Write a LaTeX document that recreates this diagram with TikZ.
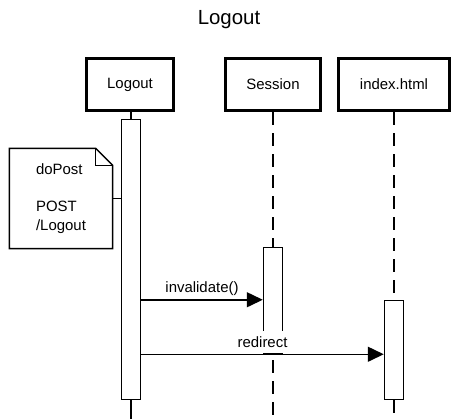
\documentclass[tikz,border=0pt]{standalone}
\usepackage{fontspec}
\setmainfont{Liberation Sans}
\usetikzlibrary{arrows.meta}
\tikzset{
  hdrbox/.style={draw=black, line width=3bp, minimum height=52bp, inner sep=0pt, font=\fontsize{15}{18}\selectfont},
  actbox/.style={draw=black, fill=white, line width=1.5bp, inner sep=0pt},
  lifeline/.style={line width=1.5bp, dash pattern=on 13bp off 8bp},
  solidline/.style={line width=1.5bp},
  msgarrow/.style={line width=1.5bp, -{Triangle[length=16bp,width=15bp]}},
  msglabel/.style={midway, above=0.8bp, fill=white, inner xsep=1.5bp, inner ysep=5.5bp, text height=11bp, text depth=0pt, font=\fontsize{15}{18}\selectfont},
  notebox/.style={inner sep=0pt, minimum width=103bp, minimum height=100bp, align=left, font=\fontsize{15}{18.5}\selectfont},
  noteline/.style={line width=1.5bp}
}
\begin{document}
\begin{tikzpicture}[x=1bp,y=-1bp]
\useasboundingbox (0,0) rectangle (458,419);
\node[font=\fontsize{20.5}{24}\selectfont] (title) at (229,20) {Logout};
% headers
\node[hdrbox, minimum width=87bp] (hlogout) at (130,84.5) {Logout};
\node[hdrbox, minimum width=95bp] (hsession) at (273,84.5) {Session};
\node[hdrbox, minimum width=111bp] (hindex) at (394,84.5) {index.html};
% activations
\node[actbox, minimum width=19bp, minimum height=280bp] (alogout) at (131,259.5) {};
\node[actbox, minimum width=19bp, minimum height=106bp] (asession) at (273,300.5) {};
\node[actbox, minimum width=19bp, minimum height=99bp] (aindex) at (394,350) {};
% lifeline ends
\coordinate (elogout) at (131,419);
\coordinate (esession) at (273,419);
\coordinate (eindex) at (394,419);
% lifelines
\draw[solidline] (alogout.north |- hlogout.south) -- (alogout.north);
\draw[solidline] (alogout.south) -- (elogout);
\draw[lifeline] (hsession.south) -- (asession.north);
\draw[lifeline] (asession.south) ++(0,6) -- (esession);
\draw[lifeline] (hindex.south) -- (aindex.north);
\draw[lifeline] (aindex.south) -- (eindex);
% note
\node[notebox] (note) at (61,198.5) {doPost\\[18.5bp]POST\\/Logout};
\draw[noteline] (note.north west) -- ([xshift=-17bp]note.north east) -- ([yshift=-17bp]note.north east) -- (note.south east) -- (note.south west) -- cycle;
\draw[noteline] ([xshift=-17bp]note.north east) -- ([xshift=-17bp,yshift=-17bp]note.north east) -- ([yshift=-17bp]note.north east);
\draw[noteline] (note.east) -- (alogout.west |- note.east);
% messages
\draw[msgarrow] (alogout.east |- aindex.north) coordinate (m1s) -- (asession.west |- m1s) node[msglabel] {invalidate()};
\draw[msgarrow] (alogout.east |- asession.south) coordinate (m2s) -- (aindex.west |- m2s) node[msglabel] {redirect};
\end{tikzpicture}
\end{document}
